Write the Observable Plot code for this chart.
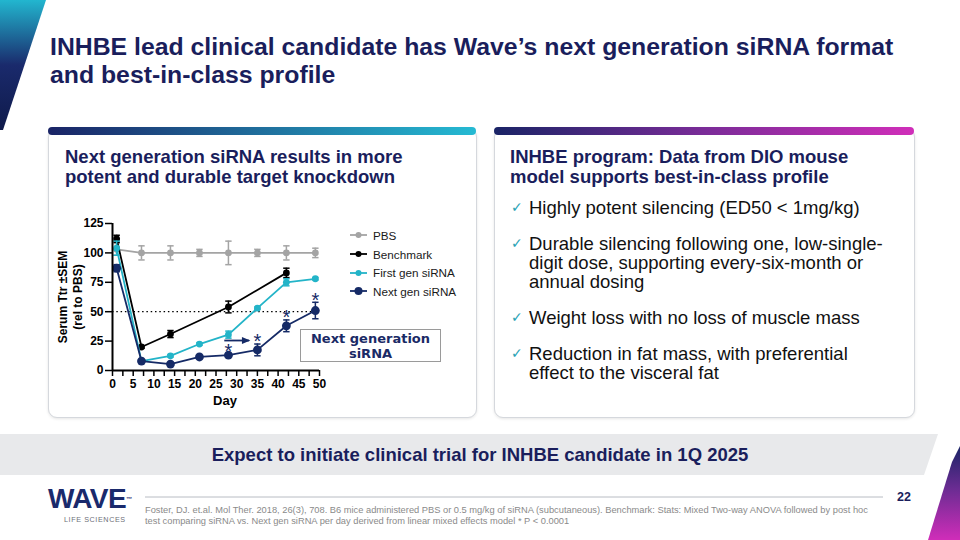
<!DOCTYPE html>
<html><head><meta charset="utf-8">
<script src="https://cdn.jsdelivr.net/npm/d3@7"></script>
<script src="https://cdn.jsdelivr.net/npm/@observablehq/plot@0.6"></script>
<style>
body{margin:0;width:960px;height:540px;overflow:hidden;position:relative;background:#fff;font-family:"Liberation Sans",Arial,sans-serif;}
.abs{position:absolute;}
.title{left:50px;top:33px;font-size:24.8px;line-height:28px;font-weight:bold;color:#1a1e5c;white-space:nowrap;}
.card{border:1px solid #d5d8dd;border-radius:9px;background:#fff;box-shadow:0 1px 3px rgba(0,0,0,0.10);}
.bar{height:8px;border-radius:4px;}
.head{font-size:18.5px;line-height:20px;font-weight:bold;color:#1a1e5c;white-space:nowrap;}
.bul{font-size:18.5px;line-height:19px;color:#111;white-space:nowrap;}
.chk{font-family:"DejaVu Sans",sans-serif;font-size:14px;color:#2aa3b6;}
.leg{font-size:11.7px;color:#1a1a1a;display:flex;align-items:center;white-space:nowrap;}
.box{border:1.5px solid #9a9a9a;background:#fff;font-family:"DejaVu Sans",sans-serif;font-weight:bold;font-size:13px;line-height:15px;color:#1a2a66;text-align:center;box-sizing:border-box;padding-top:1px;}
.foot{left:145px;top:505px;font-size:9.3px;line-height:11px;color:#8a8a8a;white-space:nowrap;}
</style></head>
<body>
<svg class="abs" style="left:0;top:0" width="960" height="540">
  <defs>
    <linearGradient id="gl" x1="0" y1="0" x2="0" y2="1">
      <stop offset="0" stop-color="#22b6cf"/><stop offset="0.5" stop-color="#1a2a6c"/><stop offset="1" stop-color="#0f1a4a"/>
    </linearGradient>
    <linearGradient id="gr" x1="0" y1="0" x2="0" y2="1">
      <stop offset="0" stop-color="#1a2466"/><stop offset="0.45" stop-color="#6a2c92"/><stop offset="1" stop-color="#d02db9"/>
    </linearGradient>
  </defs>
  <polygon points="0,0 46,0 3,130 0,130" fill="url(#gl)"/>
  <polygon points="0,434 938,434 924,475 0,475" fill="#e8e9eb"/>
  <polygon points="952,462 960,446 960,540 928,540" fill="url(#gr)"/>
  <line x1="145" y1="497" x2="883" y2="497" stroke="#b8bcc3" stroke-width="1"/>
</svg>

<div class="abs title">INHBE lead clinical candidate has Wave’s next generation siRNA format<br>and best-in-class profile</div>

<div class="abs card" style="left:48px;top:128px;width:427px;height:288px;"></div>
<div class="abs bar" style="left:48px;top:127px;width:428px;background:linear-gradient(90deg,#1a2466,#25bad3);"></div>
<div class="abs head" style="left:65px;top:147px;">Next generation siRNA results in more<br>potent and durable target knockdown</div>

<div class="abs card" style="left:494px;top:128px;width:419px;height:288px;"></div>
<div class="abs bar" style="left:494px;top:127px;width:420px;background:linear-gradient(90deg,#1a2466,#7a2c98 50%,#d02eb9);"></div>
<div class="abs head" style="left:510px;top:147px;">INHBE program: Data from DIO mouse<br>model supports best-in-class profile</div>

<div class="abs chk" style="left:511px;top:199px;">✓</div>
<div class="abs bul" style="left:529px;top:198px;">Highly potent silencing (ED50 &lt; 1mg/kg)</div>
<div class="abs chk" style="left:511px;top:235px;">✓</div>
<div class="abs bul" style="left:529px;top:234px;">Durable silencing following one, low-single-<br>digit dose, supporting every-six-month or<br>annual dosing</div>
<div class="abs chk" style="left:511px;top:309px;">✓</div>
<div class="abs bul" style="left:529px;top:308px;">Weight loss with no loss of muscle mass</div>
<div class="abs chk" style="left:511px;top:345px;">✓</div>
<div class="abs bul" style="left:529px;top:344px;">Reduction in fat mass, with preferential<br>effect to the visceral fat</div>

<div id="chart" class="abs" style="left:40px;top:205px;"></div>
<div id="legend" class="abs" style="left:350px;top:226px;"></div>
<div class="abs box" style="left:300px;top:329px;width:141px;height:33px;">Next generation<br>siRNA</div>

<div class="abs head" style="left:0;width:960px;text-align:center;top:445px;">Expect to initiate clinical trial for INHBE candidate in 1Q 2025</div>

<div class="abs" style="left:48px;top:484px;font-size:28px;font-weight:900;color:#1a2a6c;letter-spacing:-0.6px;line-height:30px;">WAVE<span style="font-size:6px;vertical-align:top;letter-spacing:0;">™</span></div>
<div class="abs" style="left:64px;top:515px;font-size:7.2px;color:#6d6f78;letter-spacing:0.6px;">LIFE SCIENCES</div>
<div class="abs" style="left:897px;top:490px;font-size:12.5px;font-weight:bold;color:#1a1e5c;">22</div>
<div class="abs foot">Foster, DJ. et.al. Mol Ther. 2018, 26(3), 708. B6 mice administered PBS or 0.5 mg/kg of siRNA (subcutaneous). Benchmark: Stats: Mixed Two-way ANOVA followed by post hoc<br>test comparing siRNA vs. Next gen siRNA per day derived from linear mixed effects model * P &lt; 0.0001</div>

<script>
const seriesNames = ["PBS", "Benchmark", "First gen siRNA", "Next gen siRNA"];
const seriesColors = ["#a4a4a4", "#000000", "#23b4c8", "#152a66"];
const dotRadius = [3.4, 3.4, 3.4, 4.4];

const pbsDays = [1, 7, 14, 21, 28, 35, 42, 49];
const pbsValues = [103, 100, 100, 100, 100, 100, 100, 100];
const pbsErr = [5, 6, 6, 3, 10, 3, 6, 4];

const benchDays = [1, 7, 14, 28, 42];
const benchValues = [112, 20, 31, 54, 83];
const benchErr = [3, 1, 3, 5, 4];

const firstDays = [1, 7, 14, 21, 28, 35, 42, 49];
const firstValues = [104, 8, 12.5, 22.5, 30.5, 53, 75, 78];
const firstErr = [6, 1, 1, 1, 3, 1, 3, 1];

const nextDays = [1, 7, 14, 21, 28, 35, 42, 49];
const nextValues = [87, 8, 5.5, 11.5, 13, 17.5, 38, 51];
const nextErr = [3, 1, 1, 1, 1, 5, 5, 7];

const sigDays = [28, 35, 42, 49];
const thresholdLevel = 50;
const arrowFromDay = 27, arrowToDay = 33, arrowLevel = 25.5;

const xTickValues = [0, 2.5, 5, 7.5, 10, 12.5, 15, 17.5, 20, 22.5, 25, 27.5, 30, 32.5, 35, 37.5, 40, 42.5, 45, 47.5, 50];
const xTickLabels = [0, 5, 10, 15, 20, 25, 30, 35, 40, 45, 50];
const yTickValues = [0, 25, 50, 75, 100, 125];
const xLabel = "Day";
const yLabel = "Serum Ttr ±SEM\n(rel to PBS)";

const seriesData = [
  [pbsDays, pbsValues, pbsErr],
  [benchDays, benchValues, benchErr],
  [firstDays, firstValues, firstErr],
  [nextDays, nextValues, nextErr]
];
const rows = [];
seriesData.forEach(([ds, vs, es], i) => ds.forEach((d, j) => rows.push({series: seriesNames[i], idx: i, day: d, value: vs[j], err: es[j]})));
const nextRows = rows.filter(r => r.idx === 3);
const sigRows = nextRows.filter(r => sigDays.includes(r.day));

const capSymbol = {draw(ctx, size) { const w = Math.sqrt(size / Math.PI); ctx.moveTo(-w, 0); ctx.lineTo(w, 0); }};
const triSymbol = {draw(ctx, size) { const s = Math.sqrt(size / Math.PI); ctx.moveTo(-s, -s * 0.85); ctx.lineTo(s, 0); ctx.lineTo(-s, s * 0.85); ctx.closePath(); }};

const marks = [
  Plot.ruleY([thresholdLevel], {stroke: "#000", strokeWidth: 1.3, strokeDasharray: "1.5,2.8"})
];
seriesNames.forEach((name, i) => {
  const sub = rows.filter(r => r.idx === i);
  const c = seriesColors[i];
  marks.push(
    Plot.line(sub, {x: "day", y: "value", stroke: c, strokeWidth: 1.8}),
    Plot.ruleX(sub, {x: "day", y1: d => d.value - d.err, y2: d => d.value + d.err, stroke: c, strokeWidth: 1.5}),
    Plot.dot(sub, {x: "day", y: d => d.value + d.err, symbol: capSymbol, r: 3.2, stroke: c, strokeWidth: 1.5}),
    Plot.dot(sub, {x: "day", y: d => d.value - d.err, symbol: capSymbol, r: 3.2, stroke: c, strokeWidth: 1.5}),
    Plot.dot(sub, {x: "day", y: "value", r: dotRadius[i], fill: c})
  );
});
marks.push(
  Plot.link([{a: arrowFromDay, b: arrowToDay, y: arrowLevel}], {x1: "a", x2: "b", y1: "y", y2: "y", stroke: seriesColors[3], strokeWidth: 1.8}),
  Plot.dot([{b: arrowToDay, y: arrowLevel}], {x: "b", y: "y", symbol: triSymbol, r: 4.2, fill: seriesColors[3], dx: -3}),
  Plot.text(sigRows, {x: "day", y: d => d.value + d.err, text: () => "*", dy: -2, fontSize: 20, fontWeight: "normal", fill: seriesColors[3]}),
  Plot.ruleX([0], {stroke: "#000", strokeWidth: 2}),
  Plot.ruleY([0], {stroke: "#000", strokeWidth: 2}),
  Plot.axisX({ticks: xTickValues, tickFormat: d => xTickLabels.includes(d) ? d : "", tickSize: 6, tickPadding: 3, strokeWidth: 1.5, label: null, fontSize: 12, fontWeight: "bold"}),
  Plot.axisY({ticks: yTickValues, tickSize: 7, tickPadding: 2, strokeWidth: 1.5, label: null, fontSize: 12, fontWeight: "bold"}),
  Plot.text([xLabel], {frameAnchor: "bottom", dy: 34, dx: 9, fontSize: 13, fontWeight: "bold", fill: "#000"}),
  Plot.text([yLabel], {frameAnchor: "left", textAnchor: "middle", rotate: -90, dx: -43, fontSize: 12, lineHeight: 1.25, fontWeight: "bold", fill: "#000"})
);

const chart = Plot.plot({
  width: 290, height: 215,
  marginLeft: 72, marginRight: 11, marginTop: 18, marginBottom: 50,
  x: {domain: [0, 50], axis: null},
  y: {domain: [0, 125], axis: null},
  style: {fontFamily: "'Liberation Sans', Arial, sans-serif", fontSize: "12px", fontWeight: "bold", color: "#000", background: "transparent", overflow: "visible"},
  marks
});
document.getElementById("chart").appendChild(chart);

const legend = document.getElementById("legend");
seriesNames.forEach((name, i) => {
  const item = document.createElement("div");
  item.className = "leg";
  item.style.height = "18.7px";
  const r = dotRadius[i] - 0.4;
  item.innerHTML = `<svg width="23" height="12"><line x1="0" y1="6" x2="17" y2="6" stroke="${seriesColors[i]}" stroke-width="1.8"/><circle cx="8.5" cy="6" r="${r}" fill="${seriesColors[i]}"/></svg><span>${name}</span>`;
  legend.appendChild(item);
});
</script>
</body></html>
